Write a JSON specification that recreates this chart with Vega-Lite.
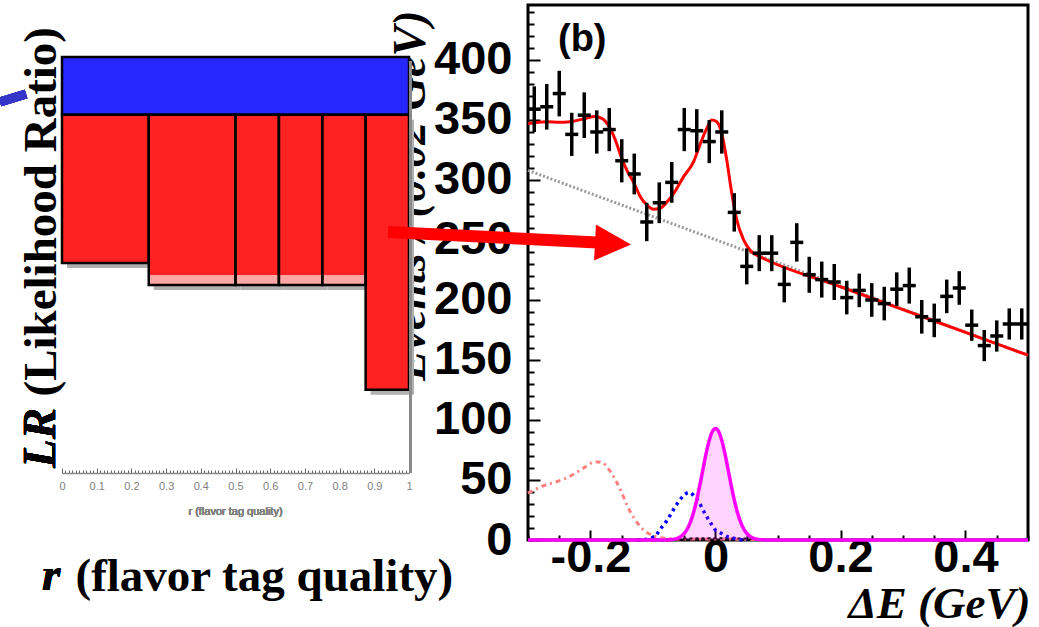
{
  "$schema": "https://vega.github.io/schema/vega-lite/v6.json",
  "width": 500,
  "height": 535,
  "autosize": "none",
  "padding": {"left": 528, "top": 5, "right": 11, "bottom": 87},
  "background": "white",
  "config": {"view": {"stroke": "black", "strokeWidth": 3}},
  "datasets": {
    "pts": [
      {"dE": -0.29, "n": 359, "lo": 340, "hi": 378},
      {"dE": -0.27, "n": 361, "lo": 342, "hi": 380},
      {"dE": -0.25, "n": 372, "lo": 353, "hi": 391},
      {"dE": -0.23, "n": 338, "lo": 320, "hi": 356},
      {"dE": -0.21, "n": 354, "lo": 335, "hi": 373},
      {"dE": -0.19, "n": 340, "lo": 322, "hi": 358},
      {"dE": -0.17, "n": 342, "lo": 324, "hi": 360},
      {"dE": -0.15, "n": 316, "lo": 298, "hi": 334},
      {"dE": -0.13, "n": 305, "lo": 288, "hi": 322},
      {"dE": -0.11, "n": 265, "lo": 249, "hi": 281},
      {"dE": -0.09, "n": 281, "lo": 264, "hi": 298},
      {"dE": -0.07, "n": 298, "lo": 281, "hi": 315},
      {"dE": -0.05, "n": 342, "lo": 324, "hi": 360},
      {"dE": -0.03, "n": 341, "lo": 323, "hi": 359},
      {"dE": -0.01, "n": 332, "lo": 314, "hi": 350},
      {"dE": 0.01, "n": 340, "lo": 322, "hi": 358},
      {"dE": 0.03, "n": 273, "lo": 257, "hi": 289},
      {"dE": 0.05, "n": 228, "lo": 213, "hi": 243},
      {"dE": 0.07, "n": 239, "lo": 224, "hi": 254},
      {"dE": 0.09, "n": 239, "lo": 224, "hi": 254},
      {"dE": 0.11, "n": 213, "lo": 198, "hi": 228},
      {"dE": 0.13, "n": 248, "lo": 232, "hi": 264},
      {"dE": 0.15, "n": 221, "lo": 206, "hi": 236},
      {"dE": 0.17, "n": 217, "lo": 202, "hi": 232},
      {"dE": 0.19, "n": 215, "lo": 200, "hi": 230},
      {"dE": 0.21, "n": 202, "lo": 188, "hi": 216},
      {"dE": 0.23, "n": 208, "lo": 194, "hi": 222},
      {"dE": 0.25, "n": 200, "lo": 186, "hi": 214},
      {"dE": 0.27, "n": 197, "lo": 183, "hi": 211},
      {"dE": 0.29, "n": 209, "lo": 195, "hi": 223},
      {"dE": 0.31, "n": 212, "lo": 197, "hi": 227},
      {"dE": 0.33, "n": 186, "lo": 172, "hi": 200},
      {"dE": 0.35, "n": 183, "lo": 169, "hi": 197},
      {"dE": 0.37, "n": 203, "lo": 189, "hi": 217},
      {"dE": 0.39, "n": 210, "lo": 196, "hi": 224},
      {"dE": 0.41, "n": 179, "lo": 166, "hi": 192},
      {"dE": 0.43, "n": 162, "lo": 149, "hi": 175},
      {"dE": 0.45, "n": 170, "lo": 157, "hi": 183},
      {"dE": 0.47, "n": 180, "lo": 167, "hi": 193},
      {"dE": 0.49, "n": 180, "lo": 167, "hi": 193}
    ],
    "fit": [
      {"dE": -0.3, "v": 347}, {"dE": -0.27, "v": 348.5}, {"dE": -0.25, "v": 348}, {"dE": -0.233, "v": 348.5},
      {"dE": -0.21, "v": 351}, {"dE": -0.193, "v": 352.8}, {"dE": -0.182, "v": 351.4}, {"dE": -0.17, "v": 344.4},
      {"dE": -0.16, "v": 333}, {"dE": -0.151, "v": 319.4}, {"dE": -0.142, "v": 308.3}, {"dE": -0.13, "v": 297},
      {"dE": -0.121, "v": 286.7}, {"dE": -0.11, "v": 279.2}, {"dE": -0.099, "v": 275.6}, {"dE": -0.089, "v": 276.4},
      {"dE": -0.078, "v": 281.4}, {"dE": -0.065, "v": 290.3}, {"dE": -0.051, "v": 302.8}, {"dE": -0.035, "v": 315.3},
      {"dE": -0.026, "v": 327.8}, {"dE": -0.014, "v": 343}, {"dE": -0.006, "v": 350}, {"dE": 0.002, "v": 348.6},
      {"dE": 0.01, "v": 338.9}, {"dE": 0.018, "v": 316.7}, {"dE": 0.026, "v": 288.9}, {"dE": 0.034, "v": 266.7},
      {"dE": 0.045, "v": 250}, {"dE": 0.055, "v": 241.7}, {"dE": 0.071, "v": 236.1}, {"dE": 0.082, "v": 233.3},
      {"dE": 0.2, "v": 211}, {"dE": 0.3, "v": 192}, {"dE": 0.4, "v": 173}, {"dE": 0.5, "v": 154}
    ],
    "bg": [{"dE": -0.3, "v": 308}, {"dE": 0.5, "v": 154}],
    "sig": [
      {"dE": -0.3, "v": 0}, {"dE": -0.08, "v": 0}, {"dE": -0.07, "v": 0.4}, {"dE": -0.06, "v": 1.6},
      {"dE": -0.05, "v": 5.5}, {"dE": -0.045, "v": 9.4}, {"dE": -0.04, "v": 15.2}, {"dE": -0.035, "v": 23.2},
      {"dE": -0.03, "v": 33.5}, {"dE": -0.025, "v": 45.8}, {"dE": -0.02, "v": 59.1}, {"dE": -0.015, "v": 72.1},
      {"dE": -0.01, "v": 83}, {"dE": -0.005, "v": 90.4}, {"dE": 0, "v": 93}, {"dE": 0.005, "v": 90.4},
      {"dE": 0.01, "v": 83}, {"dE": 0.015, "v": 72.1}, {"dE": 0.02, "v": 59.1}, {"dE": 0.025, "v": 45.8},
      {"dE": 0.03, "v": 33.5}, {"dE": 0.035, "v": 23.2}, {"dE": 0.04, "v": 15.2}, {"dE": 0.045, "v": 9.4},
      {"dE": 0.05, "v": 5.5}, {"dE": 0.06, "v": 1.6}, {"dE": 0.07, "v": 0.4}, {"dE": 0.08, "v": 0},
      {"dE": 0.5, "v": 0}
    ],
    "bluec": [
      {"dE": -0.125, "v": 0}, {"dE": -0.112, "v": 0.5}, {"dE": -0.098, "v": 2.8}, {"dE": -0.086, "v": 10.6},
      {"dE": -0.078, "v": 16.1}, {"dE": -0.066, "v": 26.4}, {"dE": -0.058, "v": 32.8}, {"dE": -0.05, "v": 37.5},
      {"dE": -0.042, "v": 39.7}, {"dE": -0.034, "v": 36.5}, {"dE": -0.026, "v": 31.1}, {"dE": -0.02, "v": 25},
      {"dE": -0.014, "v": 19.4}, {"dE": -0.008, "v": 14.4}, {"dE": -0.001, "v": 8.9}, {"dE": 0.009, "v": 5.6},
      {"dE": 0.019, "v": 2.8}, {"dE": 0.029, "v": 1.4}, {"dE": 0.04, "v": 0.3}, {"dE": 0.05, "v": 0}
    ],
    "salmon": [
      {"dE": -0.3, "v": 39}, {"dE": -0.275, "v": 45.3}, {"dE": -0.254, "v": 48.6}, {"dE": -0.232, "v": 53.3},
      {"dE": -0.212, "v": 59.7}, {"dE": -0.192, "v": 65.3}, {"dE": -0.181, "v": 64.4}, {"dE": -0.172, "v": 59.7},
      {"dE": -0.16, "v": 50}, {"dE": -0.15, "v": 39.4}, {"dE": -0.141, "v": 28.3}, {"dE": -0.13, "v": 18},
      {"dE": -0.116, "v": 8.9}, {"dE": -0.1, "v": 3.6}, {"dE": -0.087, "v": 1.9}, {"dE": -0.07, "v": 1},
      {"dE": -0.04, "v": 0.8}, {"dE": 0, "v": 0.8}, {"dE": 0.05, "v": 0.6}, {"dE": 0.08, "v": 0}
    ],
    "blk": [
      {"dE": -0.08, "v": 0.5}, {"dE": -0.05, "v": 1.2}, {"dE": 0, "v": 1.5}, {"dE": 0.05, "v": 1.2}, {"dE": 0.08, "v": 0.5}
    ],
    "lr": [
      {"r0": 0, "r1": 1, "lo": 0.861, "hi": 1, "part": "blue"},
      {"r0": 0, "r1": 0.25, "lo": 0.505, "hi": 0.861, "part": "red"},
      {"r0": 0.25, "r1": 0.5, "lo": 0.452, "hi": 0.861, "part": "red"},
      {"r0": 0.5, "r1": 0.625, "lo": 0.452, "hi": 0.861, "part": "red"},
      {"r0": 0.625, "r1": 0.75, "lo": 0.452, "hi": 0.861, "part": "red"},
      {"r0": 0.75, "r1": 0.875, "lo": 0.452, "hi": 0.861, "part": "red"},
      {"r0": 0.875, "r1": 1, "lo": 0.2, "hi": 0.861, "part": "red"},
      {"r0": 0.25, "r1": 0.875, "lo": 0.452, "hi": 0.476, "part": "light"}
    ]
  },
  "layer": [
    {
      "encoding": {
        "x": {
          "field": "dE", "type": "quantitative",
          "scale": {"domain": [-0.3, 0.5], "nice": false, "zero": false},
          "axis": {
            "orient": "bottom", "tickCount": 16, "domain": false, "grid": false,
            "tickColor": "black", "tickWidth": 2,
            "tickSize": {"condition": {"test": "abs(round(datum.value*100)) % 20 === 0", "value": -10}, "value": -5},
            "labelExpr": "abs(round(datum.value*100)) % 20 === 0 ? '' + datum.value : ''",
            "labelFont": "Liberation Sans", "labelFontWeight": "bold", "labelFontSize": 47, "labelColor": "black",
            "labelPadding": 4, "labelOverlap": false, "labelFlush": false,
            "title": "ΔE (GeV)", "titleFont": "Liberation Serif", "titleFontStyle": "italic", "titleFontWeight": "bold",
            "titleFontSize": 45, "titleColor": "black", "titleAlign": "right", "titleX": 502, "titleY": 77, "titleBaseline": "alphabetic"
          }
        }
      },
      "layer": [
        {
          "data": {"name": "bg"},
          "mark": {"type": "line", "color": "#9a9a9a", "strokeWidth": 3, "strokeDash": [2, 2]},
          "encoding": {
            "y": {
              "field": "v", "type": "quantitative",
              "scale": {"domain": [0, 445.8], "nice": false, "zero": false},
              "axis": {
                "orient": "left", "tickCount": 45, "domain": false, "grid": false,
                "tickColor": "black", "tickWidth": 2,
                "tickSize": {"condition": {"test": "datum.value % 50 === 0", "value": -12}, "value": -6},
                "labelExpr": "datum.value % 50 === 0 ? '' + datum.value : ''",
                "labelFont": "Liberation Sans", "labelFontWeight": "bold", "labelFontSize": 47, "labelColor": "black",
                "labelPadding": 28, "labelOverlap": false, "labelFlush": false,
                "title": "Events / (0.02 GeV)", "titleFont": "Liberation Serif", "titleFontStyle": "italic", "titleFontWeight": "bold",
                "titleFontSize": 46, "titleColor": "black", "titleAngle": 270, "titleAlign": "right", "titleBaseline": "alphabetic",
                "titleX": -104, "titleY": 5
              }
            }
          }
        },
        {
          "data": {"name": "salmon"},
          "mark": {"type": "line", "color": "#ff8080", "strokeWidth": 3, "strokeDash": [5, 4, 2, 4], "interpolate": "monotone"},
          "encoding": {"y": {"field": "v", "type": "quantitative", "scale": {"domain": [0, 445.8], "nice": false, "zero": false}}}
        },
        {
          "data": {"name": "blk"},
          "mark": {"type": "line", "color": "black", "strokeWidth": 2, "strokeDash": [3, 3], "interpolate": "monotone"},
          "encoding": {"y": {"field": "v", "type": "quantitative", "scale": {"domain": [0, 445.8], "nice": false, "zero": false}}}
        },
        {
          "data": {"name": "bluec"},
          "mark": {"type": "line", "color": "#0000ff", "strokeWidth": 3.5, "strokeDash": [3, 4], "interpolate": "monotone"},
          "encoding": {"y": {"field": "v", "type": "quantitative", "scale": {"domain": [0, 445.8], "nice": false, "zero": false}}}
        },
        {
          "data": {"name": "sig"},
          "mark": {"type": "area", "color": "#ff00ff", "opacity": 0.17, "interpolate": "monotone"},
          "encoding": {"y": {"field": "v", "type": "quantitative", "scale": {"domain": [0, 445.8], "nice": false, "zero": false}}}
        },
        {
          "data": {"name": "sig"},
          "mark": {"type": "line", "color": "#ff00ff", "strokeWidth": 3.5, "interpolate": "monotone"},
          "encoding": {"y": {"field": "v", "type": "quantitative", "scale": {"domain": [0, 445.8], "nice": false, "zero": false}}}
        },
        {
          "data": {"name": "fit"},
          "mark": {"type": "line", "color": "#ff0000", "strokeWidth": 3, "interpolate": "monotone"},
          "encoding": {"y": {"field": "v", "type": "quantitative", "scale": {"domain": [0, 445.8], "nice": false, "zero": false}}}
        },
        {
          "data": {"name": "pts"},
          "mark": {"type": "rule", "color": "black", "strokeWidth": 3.5},
          "encoding": {
            "y": {"field": "lo", "type": "quantitative", "scale": {"domain": [0, 445.8], "nice": false, "zero": false}},
            "y2": {"field": "hi"}
          }
        },
        {
          "data": {"name": "pts"},
          "mark": {"type": "tick", "orient": "horizontal", "color": "black", "size": 13, "thickness": 3.5, "opacity": 1},
          "encoding": {"y": {"field": "n", "type": "quantitative", "scale": {"domain": [0, 445.8], "nice": false, "zero": false}}}
        }
      ]
    },
    {
      "data": {"name": "lr"},
      "encoding": {
        "x": {
          "field": "r0", "type": "quantitative",
          "scale": {"domain": [0, 1], "range": [-466, -119], "nice": false, "zero": false},
          "axis": {
            "orient": "bottom", "offset": -67, "tickCount": 100, "grid": false,
            "domainColor": "#888888", "domainWidth": 1.5, "tickColor": "#666666", "tickWidth": 1,
            "tickSize": {"condition": {"test": "round(datum.value*100) % 10 === 0", "value": -5}, "value": -3},
            "labelExpr": "round(datum.value*100) % 10 === 0 ? '' + datum.value : ''",
            "labelFont": "Liberation Sans", "labelFontSize": 11, "labelColor": "#808080", "labelPadding": 12,
            "labelOverlap": false, "labelFlush": false,
            "title": "(flavor tag quality)", "titleFont": "Liberation Serif", "titleFontWeight": "bold", "titleFontSize": 47,
            "titleColor": "black", "titleAlign": "left", "titleBaseline": "alphabetic", "titleX": -453, "titleY": 117
          }
        },
        "y": {
          "field": "hi", "type": "quantitative",
          "scale": {"domain": [0, 1], "range": [468, 52], "nice": false, "zero": false},
          "axis": {
            "orient": "left", "offset": 466, "domain": false, "ticks": false, "labels": false, "grid": false,
            "title": "(Likelihood Ratio)", "titleFont": "Liberation Serif", "titleFontWeight": "bold", "titleFontSize": 47,
            "titleColor": "black", "titleAngle": 270, "titleAlign": "left", "titleBaseline": "alphabetic", "titleX": -7, "titleY": 391
          }
        }
      },
      "layer": [
        {
          "transform": [{"filter": "datum.part === 'red'"}],
          "mark": {"type": "rect", "color": "#b0b0b0", "xOffset": 5, "yOffset": 5, "x2Offset": 5, "y2Offset": 5},
          "encoding": {"x2": {"field": "r1"}, "y2": {"field": "lo"}}
        },
        {
          "mark": {"type": "rect", "opacity": 1},
          "encoding": {
            "x2": {"field": "r1"}, "y2": {"field": "lo"},
            "color": {"field": "part", "type": "nominal", "scale": {"domain": ["blue", "red", "light"], "range": ["#2626ff", "#ff2222", "#ffa6a6"]}, "legend": null}
          }
        },
        {
          "transform": [{"filter": "datum.part !== 'light'"}],
          "mark": {"type": "rect", "filled": false, "color": "black", "strokeWidth": 2.5},
          "encoding": {"x2": {"field": "r1"}, "y2": {"field": "lo"}}
        },
        {
          "mark": {"type": "rule", "color": "#8a8a8a", "strokeWidth": 2},
          "encoding": {"x": {"datum": 1.004}, "y": {"datum": 0}, "y2": {"datum": 0.99}}
        },
        {
          "mark": {"type": "rule", "color": "#3535c8", "strokeWidth": 9},
          "encoding": {"x": {"datum": -0.1787}, "x2": {"datum": -0.1037}, "y": {"datum": 0.892}, "y2": {"datum": 0.911}}
        },
        {
          "mark": {"type": "text", "font": "Liberation Sans", "fontSize": 11, "color": "#808080", "baseline": "middle"},
          "encoding": {"x": {"datum": 0.5}, "y": {"datum": -0.093}, "text": {"value": "r (flavor tag quality)"}}
        },
        {
          "mark": {"type": "text", "font": "Liberation Serif", "fontSize": 47, "fontWeight": "bold", "fontStyle": "italic", "color": "black", "align": "left", "baseline": "alphabetic", "angle": 270},
          "encoding": {"x": {"datum": -0.0202}, "y": {"datum": 0.012}, "text": {"value": "LR"}}
        },
        {
          "mark": {"type": "text", "font": "Liberation Serif", "fontSize": 47, "fontWeight": "bold", "fontStyle": "italic", "color": "black", "align": "left", "baseline": "alphabetic"},
          "encoding": {"x": {"datum": -0.0576}, "y": {"datum": -0.281}, "text": {"value": "r"}}
        }
      ]
    },
    {
      "data": {"values": [{}]},
      "encoding": {
        "x": {"datum": -0.524, "type": "quantitative", "scale": {"domain": [-0.3, 0.5], "nice": false, "zero": false}, "axis": null},
        "y": {"datum": 256.7, "type": "quantitative", "scale": {"domain": [0, 445.8], "nice": false, "zero": false}, "axis": null}
      },
      "layer": [
        {
          "mark": {"type": "rule", "color": "#ff0000", "strokeWidth": 12},
          "encoding": {"x2": {"datum": -0.1896}, "y2": {"datum": 247.9}}
        },
        {
          "mark": {"type": "point", "shape": "M-1,-1L1,0L-1,1Z", "filled": true, "color": "#ff0000", "opacity": 1, "size": 1296, "angle": 3},
          "encoding": {"x": {"datum": -0.164}, "y": {"datum": 247.1}}
        },
        {
          "mark": {"type": "text", "text": "(b)", "font": "Liberation Sans", "fontSize": 38, "fontWeight": "bold", "color": "black", "align": "left", "baseline": "alphabetic"},
          "encoding": {"x": {"datum": -0.252}, "y": {"datum": 407.5}}
        }
      ]
    }
  ],
  "resolve": {"scale": {"x": "independent", "y": "independent"}, "axis": {"x": "independent", "y": "independent"}}
}
